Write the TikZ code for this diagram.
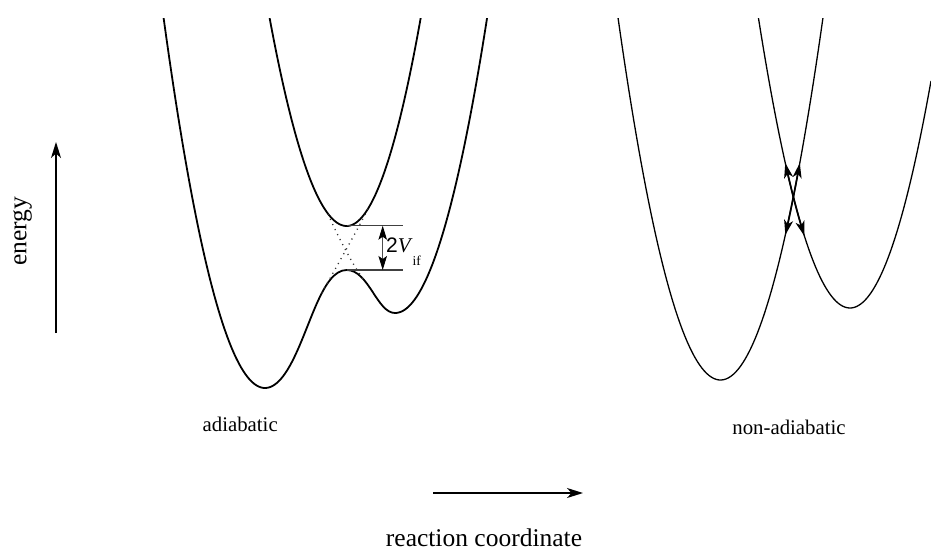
\documentclass[tikz,border=0pt]{standalone}
\usepackage{fontspec}
\setmainfont{Liberation Serif}
\setsansfont{Liberation Sans}
\usetikzlibrary{arrows.meta}
\begin{document}
\begin{tikzpicture}[x=1pt,y=-1pt,
  curveL/.style={line width=1.8pt},
  curveR/.style={line width=1.3pt},
  axisarrow/.style={line width=1.6pt,-{Stealth[length=16pt,width=10pt,inset=4.5pt]}},
  gaparrow/.style={line width=0.9pt,black!70,{Stealth[length=14pt,width=8.5pt,inset=3pt,black]}-{Stealth[length=14pt,width=8.5pt,inset=3pt,black]}},
  gapline/.style={line width=1.1pt,black!75},
  diabatic/.style={line width=1.3pt,black!80,dash pattern=on 1.1pt off 4.5pt},
  crossarrow/.style={line width=1.7pt,{Stealth[length=15pt,width=9pt,inset=4pt]}-{Stealth[length=15pt,width=9pt,inset=4pt]}},
  biglabel/.style={font=\fontsize{25.5}{30}\selectfont,inner sep=0pt},
  smalllabel/.style={font=\fontsize{20.8}{25}\selectfont,inner sep=0pt}]
\useasboundingbox (0,0) rectangle (931,552);

\begin{scope}
\clip (0,18) rectangle (931,552);
% ---- adiabatic: lower curve
\draw[curveL] plot[domain=158:290,samples=60] (\x,{388-0.036*(\x-265)*(\x-265)})
  .. controls (310,329.5) and (321.7,270) .. (346.7,270)
  .. controls (368.7,270) and (377,313) .. (395,313)
  -- plot[domain=395:492,samples=50] (\x,{313-0.0348*(\x-395)*(\x-395)});
% ---- adiabatic: upper curve
\draw[curveL] plot[domain=262:346.7,samples=50] (\x,{226-0.035*(\x-346.7)*(\x-346.7)})
  -- plot[domain=346.7:428,samples=50] (\x,{226-0.038*(\x-346.7)*(\x-346.7)});
% ---- non-adiabatic parabolas
\draw[curveR] plot[domain=612:828,samples=90] (\x,{380-0.0345*(\x-720.5)*(\x-720.5)});
\draw[curveR] plot[domain=752:931,samples=80] (\x,{308-0.0346*(\x-850)*(\x-850)});
\end{scope}

% diabatic continuations (dotted X)
\coordinate (d2s) at (328,213.8);
\coordinate (d2e) at (363.4,279.3);
\coordinate (d1s) at (321.7,293.3);
\coordinate (d1e) at (368,208.8);
\draw[diabatic] (d2s) .. controls (336,233) and (353.4,266.3) .. (d2e);
\draw[diabatic] (d1s) .. controls (334,271) and (358,229) .. (d1e);

% gap 2V_if
\coordinate (ut) at (346.7,225.7);
\coordinate (ue) at (402.7,225.7);
\coordinate (lt) at (346.7,270);
\coordinate (le) at (402.7,270);
\coordinate (gt) at (382.7,225.7);
\coordinate (gb) at (382.7,270);
\draw[gapline] (ut) -- (ue);
\draw[gapline] (lt) -- (le);
\draw[gaparrow] (gt) -- (gb);
\node[anchor=base west,inner sep=0pt] (gaplabel) at (386,252.3)
  {\fontsize{21}{25}\selectfont\sffamily 2\rmfamily\itshape V\kern2pt\upshape\raisebox{-13pt}{\fontsize{13.5}{15}\selectfont if}};

% crossing arrows (non-adiabatic)
\draw[crossarrow] plot[domain=163:235,samples=12,variable=\t] ({720.5+sqrt((380-\t)/0.0345)},\t);
\draw[crossarrow] plot[domain=163:236,samples=12,variable=\t] ({850-sqrt((308-\t)/0.0346)},\t);

% axes
\coordinate (eb) at (56,333);
\coordinate (et) at (56,142);
\draw[axisarrow] (eb) -- (et);
\coordinate (rl) at (433,493);
\coordinate (rr) at (583,493);
\draw[axisarrow] (rl) -- (rr);

% labels
\node[biglabel,rotate=90] (energy) at (22.5,231) {energy};
\node[biglabel,anchor=base] (rc) at (484,546) {reaction coordinate};
\node[smalllabel,anchor=base] (adi) at (240.2,431.7) {adiabatic};
\node[smalllabel,anchor=base] (nonadi) at (789,434) {non-adiabatic};
\end{tikzpicture}
\end{document}
